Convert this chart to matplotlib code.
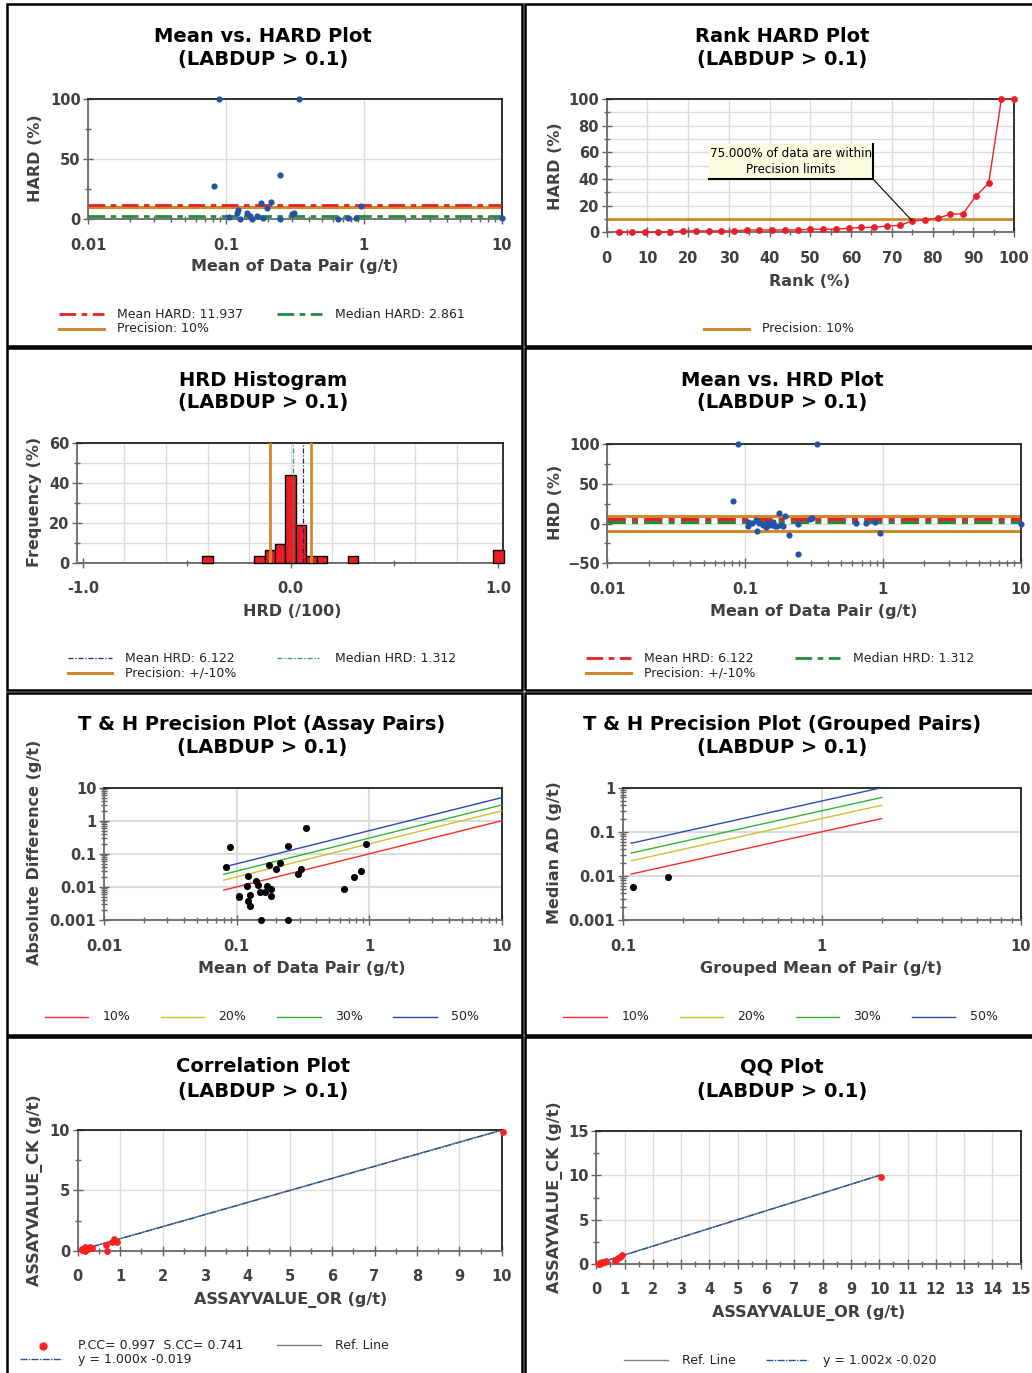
import matplotlib
matplotlib.use('Agg')
import matplotlib.pyplot as plt
from matplotlib.lines import Line2D
from matplotlib.patches import Rectangle
import matplotlib.ticker as mt
import numpy as np

plt.rcParams['font.family'] = ['DejaVu Sans']
plt.rcParams['font.weight'] = 'bold'

# ---------------- DATA ----------------
# Panel 1: Mean vs HARD
p1_mean = [0.082, 0.089, 0.105, 0.119, 0.123, 0.126, 0.142, 0.149, 0.155, 0.168, 0.178, 0.184,
           0.197, 0.212, 0.246, 0.246, 0.301, 0.310, 0.336, 0.645, 0.767, 0.877, 0.953, 10.06]
p1_hard = [27.5, 100, 1.4, 4.7, 7.8, 0.3, 5.3, 2.8, 0.0, 2.8, 13.0, 1.0,
           9.0, 14.0, 36.7, 0.0, 4.4, 5.3, 100, 0.0, 1.0, 1.0, 11.0, 0.5]
mean_hard = 11.937
median_hard = 2.861
precision = 10

# Panel 2: Rank HARD
rank_pct = [3.1, 6.3, 9.4, 12.5, 15.6, 18.8, 21.9, 25.0, 28.1, 31.3, 34.4, 37.5, 40.6, 43.8, 46.9, 50.0,
            53.1, 56.3, 59.4, 62.5, 65.6, 68.8, 71.9, 75.0, 78.1, 81.3, 84.4, 87.5, 90.6, 93.8, 96.9, 100.0]
rank_hard = [0, 0, 0, 0, 0.2, 1, 1, 1, 1, 1, 1.7, 1.7, 1.7, 1.7, 1.7, 2.3,
             2.3, 2.3, 3.0, 3.7, 3.7, 4.7, 5.2, 8.5, 9.2, 10.7, 13.5, 14.0, 27.0, 37.0, 100, 100]
within_label = "75.000% of data are within\nPrecision limits"
within_point = (75.0, 8.5)

# Panel 3: HRD histogram
hist_centers = [-0.40, -0.15, -0.10, -0.05, 0.00, 0.05, 0.10, 0.15, 0.30, 1.00]
hist_freq = [3.125, 3.125, 6.25, 9.375, 43.75, 18.75, 3.125, 3.125, 3.125, 6.25]
mean_hrd = 6.122
median_hrd = 1.312

# Panel 4: Mean vs HRD
p4_mean = [0.0813, 0.0888, 0.1044, 0.1049, 0.112, 0.119, 0.123, 0.126, 0.135, 0.142, 0.145, 0.150, 0.150,
           0.156, 0.160, 0.165, 0.170, 0.176, 0.182, 0.188, 0.195, 0.209, 0.243, 0.243, 0.296, 0.307,
           0.333, 0.637, 0.758, 0.871, 0.948, 10.0]
p4_hrd = [27.9, 100, 2.3, -3.1, 1.0, 4.4, -9.4, 0.2, -2.0, -4.8, 0.5, -1.9, 1.0,
          -1.9, 1.5, -3.1, -2.5, 13.6, -1.9, -3.0, 9.8, -14.5, -0.6, -38.8, 5.3, 6.5,
          100, 0.6, 0.6, 2.3, -12.4, -0.6]

# Panel 5: T&H assay pairs
th_mean = [0.0827, 0.0887, 0.104, 0.105, 0.122, 0.120, 0.123, 0.126, 0.127, 0.140, 0.146, 0.151, 0.154,
           0.165, 0.169, 0.175, 0.181, 0.181, 0.197, 0.212, 0.244, 0.244, 0.292, 0.304, 0.332,
           0.643, 0.768, 0.867, 0.951]
th_ad = [0.0399, 0.160, 0.0054, 0.0048, 0.0213, 0.0104, 0.0037, 0.00265, 0.0056, 0.0151, 0.0114, 0.0072, 0.001,
         0.0072, 0.0104, 0.0449, 0.0089, 0.0054, 0.0355, 0.054, 0.172, 0.001, 0.0251, 0.0355, 0.615,
         0.0085, 0.0199, 0.0302, 0.198]
prec_levels = [0.10, 0.20, 0.30, 0.50]
prec_labels = ['10%', '20%', '30%', '50%']
prec_colors = ['#ff2a2a', '#cfc12c', '#2eb82e', '#2a4cb0']
th_line_x = [0.08, 10.0]

# Panel 6: T&H grouped
grp_mean = [0.1127, 0.1684]
grp_ad = [0.0055, 0.0094]
grp_line_x = [0.11, 2.0]

# Panel 7: Correlation
corr_or = [0.10, 0.11, 0.12, 0.13, 0.15, 0.16, 0.18, 0.18, 0.20, 0.22, 0.25, 0.28, 0.30, 0.33,
           0.67, 0.70, 0.80, 0.86, 0.92, 10.04]
corr_ck = [0.08, 0.12, 0.03, 0.13, 0.16, 0.10, 0.28, 0.00, 0.18, 0.22, 0.15, 0.26, 0.30, 0.20,
           0.47, 0.00, 0.75, 0.97, 0.75, 9.86]
corr_fit = (1.000, -0.019)
corr_fit_x = [0.09, 10.0]

# Panel 8: QQ
qq_or = [0.08, 0.10, 0.12, 0.14, 0.16, 0.18, 0.20, 0.23, 0.26, 0.30, 0.34, 0.65, 0.70, 0.78, 0.85, 0.92, 10.05]
qq_ck = [0.00, 0.00, 0.03, 0.08, 0.10, 0.12, 0.15, 0.18, 0.20, 0.22, 0.28, 0.30, 0.47, 0.62, 0.75, 0.97, 9.84]
qq_fit = (1.002, -0.020)
qq_fit_x = [0.1, 10.05]

# ---------------- FIGURE ----------------
W, H = 1032, 1373
fig = plt.figure(figsize=(W / 100, H / 100), dpi=100)
fig.patch.set_facecolor('white')

def fx(x):
    return x / W

def fy(y):
    return 1 - y / H

def add_ax(l, r, t, b):
    return fig.add_axes([l / W, 1 - b / H, (r - l) / W, (b - t) / H])

BLUE = '#2453a6'
RED = '#e8202a'
ORANGE = '#d08a2e'
GREEN = '#1e8c3c'
LBL = '#404040'
GRID = '#dcdcdc'

def style(ax, xpad=10):
    for s in ['left', 'bottom']:
        ax.spines[s].set_color('#6a6a6a')
    for s in ['top', 'right']:
        ax.spines[s].set_color('#222222')
    for s in ax.spines.values():
        s.set_linewidth(1.3)
    ax.tick_params(which='both', direction='inout', colors='#606060', labelcolor=LBL,
                   labelsize=10.5, top=False, right=False)
    ax.tick_params(which='major', length=7, width=1)
    ax.tick_params(which='minor', length=5, width=1)
    ax.tick_params(axis='x', pad=xpad)
    ax.tick_params(axis='y', pad=2)
    ax.set_axisbelow(True)

def title(cx, y1, y2, s):
    fig.text(fx(cx), fy(y1), s, ha='center', va='center', fontsize=14, weight='bold', color='black')
    fig.text(fx(cx), fy(y2), '(LABDUP > 0.1)', ha='center', va='center', fontsize=14, weight='bold', color='black')

def xlabel(cx, y, s):
    fig.text(fx(cx), fy(y), s, ha='center', va='center', fontsize=11.5, weight='bold', color=LBL)

def ylabel(x, cy, s):
    fig.text(fx(x), fy(cy), s, ha='center', va='center', rotation=90, fontsize=11.5, weight='bold', color=LBL)

def leg_line(x0, x1, y, **kw):
    fig.add_artist(Line2D([fx(x0), fx(x1)], [fy(y), fy(y)], transform=fig.transFigure, **kw))

def leg_text(x, y, s):
    fig.text(fx(x), fy(y), s, ha='left', va='center', fontsize=9, weight='normal', color='#222222')

def panel_box(l, r, t, b):
    fig.add_artist(Rectangle((fx(l), fy(b)), (r - l) / W, (b - t) / H, fill=False, lw=1.8,
                             ec='black', transform=fig.transFigure, zorder=10))

def log_ticks(axis, majors, labels):
    axis.set_major_locator(mt.FixedLocator(majors))
    axis.set_major_formatter(mt.FixedFormatter(labels))
    axis.set_minor_locator(mt.LogLocator(base=10, subs=np.arange(2, 10)))
    axis.set_minor_formatter(mt.NullFormatter())

# panel borders
for (l, r) in [(6.7, 521.7), (525, 1040)]:
    for (t, b) in [(4, 346), (348.3, 690), (692.7, 1035), (1037, 1380)]:
        panel_box(l, r, t, b)

# ---------- Panel 1 ----------
ax = add_ax(88.3, 501.7, 99, 219)
style(ax)
ax.set_xscale('log')
ax.set_xlim(0.01, 10)
ax.set_ylim(0, 100)
log_ticks(ax.xaxis, [0.01, 0.1, 1, 10], ['0.01', '0.1', '1', '10'])
ax.yaxis.set_major_locator(mt.FixedLocator([0, 50, 100]))
ax.yaxis.set_minor_locator(mt.FixedLocator([25, 75]))
ax.grid(True, which='major', color=GRID, lw=1)
ax.axhline(precision, color=ORANGE, lw=2.2, zorder=2)
ax.axhline(mean_hard, color=RED, lw=2, dashes=(6, 2, 2, 2), zorder=3)
ax.axhline(median_hard, color=GREEN, lw=2, dashes=(6, 2, 2, 2), zorder=3)
ax.scatter(p1_mean, p1_hard, s=20, color=BLUE, zorder=4, clip_on=False, linewidths=0)
title(263, 36, 59, 'Mean vs. HARD Plot')
xlabel(295, 267, 'Mean of Data Pair (g/t)')
ylabel(35, 158, 'HARD (%)')
leg_line(58.7, 104, 314.3, color=RED, lw=2, dashes=(6, 2, 2, 2))
leg_text(117.3, 314.3, 'Mean HARD: %.3f' % mean_hard)
leg_line(277, 322, 314.3, color=GREEN, lw=2, dashes=(6, 2, 2, 2))
leg_text(335, 314.3, 'Median HARD: %.3f' % median_hard)
leg_line(58.7, 104, 328.7, color=ORANGE, lw=2.2)
leg_text(117.3, 328.7, 'Precision: 10%')

# ---------- Panel 2 ----------
ax = add_ax(606.7, 1014, 99, 232.3)
style(ax)
ax.set_xlim(0, 100)
ax.set_ylim(0, 100)
ax.xaxis.set_major_locator(mt.MultipleLocator(10))
ax.xaxis.set_minor_locator(mt.MultipleLocator(5))
ax.yaxis.set_major_locator(mt.MultipleLocator(20))
ax.yaxis.set_minor_locator(mt.MultipleLocator(10))
ax.grid(True, which='major', axis='x', color=GRID, lw=1)
ax.grid(True, which='both', axis='y', color=GRID, lw=1)
ax.axhline(precision, color=ORANGE, lw=2, zorder=2)
ax.plot(rank_pct, rank_hard, color=RED, lw=1, marker='o', ms=3.9, mec=RED, mfc=RED,
        zorder=4, clip_on=False)
# annotation box
bx0, bx1, by0, by1 = 709, 873, 144, 179
fig.add_artist(Rectangle((fx(bx0), fy(by1)), (bx1 - bx0) / W, (by1 - by0) / H, fc='#fbfbdf',
                         ec='none', transform=fig.transFigure, zorder=5))
fig.add_artist(Line2D([fx(bx0), fx(bx1), fx(bx1)], [fy(by1), fy(by1), fy(by0)], color='black',
                      lw=1.5, transform=fig.transFigure, zorder=6))
fig.text(fx(791), fy(161.5), within_label, ha='center', va='center', fontsize=8.6, weight='normal',
         color='black', linespacing=1.3, zorder=7)
ax.annotate('', xy=within_point, xycoords='data', xytext=(bx1, H - by1), textcoords='figure pixels',
            arrowprops=dict(arrowstyle='-', color='black', lw=0.8, shrinkA=0, shrinkB=0), zorder=6)
title(782, 36, 59, 'Rank HARD Plot')
xlabel(810, 282, 'Rank (%)')
ylabel(555, 166, 'HARD (%)')
leg_line(704, 748.7, 328.7, color=ORANGE, lw=2.2)
leg_text(762.3, 328.7, 'Precision: 10%')

# ---------- Panel 3 ----------
ax = add_ax(77.3, 503.3, 442.7, 562.7)
style(ax)
ax.set_xlim(-1.027, 1.024)
ax.set_ylim(0, 60)
ax.xaxis.set_major_locator(mt.FixedLocator([-1.0, 0.0, 1.0]))
ax.xaxis.set_major_formatter(mt.FixedFormatter(['-1.0', '0.0', '1.0']))
ax.xaxis.set_minor_locator(mt.FixedLocator([-0.5, 0.5]))
ax.yaxis.set_major_locator(mt.MultipleLocator(20))
ax.yaxis.set_minor_locator(mt.MultipleLocator(10))
ax.grid(True, which='both', axis='y', color=GRID, lw=1)
for gx in np.arange(-0.8, 1.0, 0.2):
    ax.axvline(gx, color=GRID, lw=1, zorder=0)
ax.axhline(0, color='#9a4a3a', lw=1.2, zorder=1)
ax.bar(hist_centers, hist_freq, width=0.05, color='#ee1c24', edgecolor='black', lw=1, zorder=3,
       clip_on=False)
ax.axvline(-precision / 100, color=ORANGE, lw=2, zorder=4)
ax.axvline(precision / 100, color=ORANGE, lw=2, zorder=4)
ax.axvline(median_hrd / 100, color='#2ca05a', lw=0.9, dashes=(4, 1.5, 1, 1.5), zorder=4)
ax.axvline(mean_hrd / 100, color='#1a237e', lw=0.9, dashes=(4, 1.5, 1, 1.5), zorder=4)
title(263, 380, 403, 'HRD Histogram')
xlabel(292, 611, 'HRD (/100)')
ylabel(35, 502, 'Frequency (%)')
leg_line(67.7, 111.7, 658.3, color='#1a237e', lw=0.9, dashes=(4, 1.5, 1, 1.5))
leg_text(125.3, 658.3, 'Mean HRD: %.3f' % mean_hrd)
leg_line(277.3, 319, 658.3, color='#2ca05a', lw=0.9, dashes=(4, 1.5, 1, 1.5))
leg_text(335, 658.3, 'Median HRD: %.3f' % median_hrd)
leg_line(67.7, 111.7, 672.7, color=ORANGE, lw=2.2)
leg_text(125.3, 672.7, 'Precision: +/-10%')

# ---------- Panel 4 ----------
ax = add_ax(607.3, 1020.7, 444, 563.3)
style(ax)
ax.set_xscale('log')
ax.set_xlim(0.01, 10)
ax.set_ylim(-50, 100)
log_ticks(ax.xaxis, [0.01, 0.1, 1, 10], ['0.01', '0.1', '1', '10'])
ax.yaxis.set_major_locator(mt.FixedLocator([-50, 0, 50, 100]))
ax.yaxis.set_minor_locator(mt.FixedLocator([-25, 25, 75]))
ax.grid(True, which='major', color=GRID, lw=1)
ax.axhline(precision, color=ORANGE, lw=2.2, zorder=2)
ax.axhline(-precision, color=ORANGE, lw=2.2, zorder=2)
ax.axhline(mean_hrd, color=RED, lw=2.2, dashes=(6, 2, 2, 2), zorder=3)
ax.axhline(median_hrd, color=GREEN, lw=2.2, dashes=(6, 2, 2, 2), zorder=3)
ax.scatter(p4_mean, p4_hrd, s=20, color=BLUE, zorder=4, clip_on=False, linewidths=0)
title(782, 380, 403, 'Mean vs. HRD Plot')
xlabel(814, 611.7, 'Mean of Data Pair (g/t)')
ylabel(555, 502, 'HRD (%)')
leg_line(585.7, 631, 658.3, color=RED, lw=2, dashes=(6, 2, 2, 2))
leg_text(644, 658.3, 'Mean HRD: %.3f' % mean_hrd)
leg_line(795.3, 840.3, 658.3, color=GREEN, lw=2, dashes=(6, 2, 2, 2))
leg_text(853.3, 658.3, 'Median HRD: %.3f' % median_hrd)
leg_line(585.7, 631, 672.7, color=ORANGE, lw=2.2)
leg_text(644, 672.7, 'Precision: +/-10%')

# ---------- Panel 5 ----------
ax = add_ax(104, 501.7, 787.7, 920)
style(ax)
ax.set_xscale('log')
ax.set_yscale('log')
ax.set_xlim(0.01, 10)
ax.set_ylim(0.001, 10)
log_ticks(ax.xaxis, [0.01, 0.1, 1, 10], ['0.01', '0.1', '1', '10'])
log_ticks(ax.yaxis, [0.001, 0.01, 0.1, 1, 10], ['0.001', '0.01', '0.1', '1', '10'])
ax.tick_params(axis='y', which='minor', length=4)
ax.grid(True, which='major', color=GRID, lw=1.5)
for p, c in zip(prec_levels, prec_colors):
    ax.plot(th_line_x, [p * v for v in th_line_x], color=c, lw=1, zorder=3)
ax.scatter(th_mean, th_ad, s=26, color='black', zorder=4, clip_on=False, linewidths=0)
title(262, 724, 748, 'T & H Precision Plot (Assay Pairs)')
xlabel(302, 969, 'Mean of Data Pair (g/t)')
ylabel(35, 852, 'Absolute Difference (g/t)')
for (x0, x1, tx), c, lab in zip([(45, 88.3, 102.7), (161.3, 204.3, 218.3), (277.3, 320.7, 335),
                                 (393.3, 436.7, 450.7)], prec_colors, prec_labels):
    leg_line(x0, x1, 1016.7, color=c, lw=1)
    leg_text(tx, 1016.7, lab)

# ---------- Panel 6 ----------
ax = add_ax(623, 1020.7, 787.7, 920)
style(ax)
ax.set_xscale('log')
ax.set_yscale('log')
ax.set_xlim(0.1, 10)
ax.set_ylim(0.001, 1)
log_ticks(ax.xaxis, [0.1, 1, 10], ['0.1', '1', '10'])
log_ticks(ax.yaxis, [0.001, 0.01, 0.1, 1], ['0.001', '0.01', '0.1', '1'])
ax.tick_params(axis='y', which='minor', length=4)
ax.grid(True, which='major', color=GRID, lw=1.5)
for p, c in zip(prec_levels, prec_colors):
    ax.plot(grp_line_x, [p * v for v in grp_line_x], color=c, lw=1, zorder=3)
ax.scatter(grp_mean, grp_ad, s=26, color='black', zorder=4, linewidths=0)
title(782, 724, 748, 'T & H Precision Plot (Grouped Pairs)')
xlabel(821, 969, 'Grouped Mean of Pair (g/t)')
ylabel(555, 853, 'Median AD (g/t)')
for (x0, x1, tx), c, lab in zip([(563.3, 607.3, 621.7), (679.7, 723.3, 737.3), (796, 839.3, 853.3),
                                 (911.7, 955.3, 970)], prec_colors, prec_labels):
    leg_line(x0, x1, 1016.7, color=c, lw=1)
    leg_text(tx, 1016.7, lab)

# ---------- Panel 7 ----------
ax = add_ax(77.7, 501.7, 1130, 1250.7)
style(ax)
ax.set_xlim(0, 10)
ax.set_ylim(0, 10)
ax.xaxis.set_major_locator(mt.MultipleLocator(1))
ax.xaxis.set_minor_locator(mt.MultipleLocator(0.5))
ax.yaxis.set_major_locator(mt.MultipleLocator(5))
ax.yaxis.set_minor_locator(mt.MultipleLocator(2.5))
ax.grid(True, which='major', color=GRID, lw=1)
ax.plot([0, 10], [0, 10], color='#808080', lw=1, zorder=2)
ax.plot(corr_fit_x, [corr_fit[0] * v + corr_fit[1] for v in corr_fit_x], color='#2850a0', lw=1,
        dashes=(5, 1, 1, 1), zorder=3)
ax.scatter(corr_or, corr_ck, s=24, color='#ff2020', zorder=4, clip_on=False, linewidths=0)
title(263, 1067, 1091, 'Correlation Plot')
xlabel(291, 1300, 'ASSAYVALUE_OR (g/t)')
ylabel(35, 1190, 'ASSAYVALUE_CK (g/t)')
fig.add_artist(Line2D([fx(43.3)], [fy(1345.7)], marker='o', ms=5, color='#ff2020', lw=0,
                      transform=fig.transFigure))
leg_text(78.3, 1345.7, 'P.CC= 0.997  S.CC= 0.741')
leg_line(277.3, 320.7, 1344.5, color='#808080', lw=1)
leg_text(335, 1345.7, 'Ref. Line')
leg_line(20, 62.3, 1358.5, color='#2850a0', lw=1, dashes=(5, 1, 1, 1))
leg_text(78.3, 1360, 'y = %.3fx %.3f' % corr_fit)

# ---------- Panel 8 ----------
ax = add_ax(596.3, 1020.7, 1131.3, 1263.7)
style(ax)
ax.set_xlim(0, 15)
ax.set_ylim(0, 15)
ax.xaxis.set_major_locator(mt.MultipleLocator(1))
ax.xaxis.set_minor_locator(mt.MultipleLocator(0.5))
ax.yaxis.set_major_locator(mt.MultipleLocator(5))
ax.yaxis.set_minor_locator(mt.MultipleLocator(2.5))
ax.grid(True, which='major', color=GRID, lw=1)
ax.plot([0, 10], [0, 10], color='#808080', lw=1, zorder=2)
ax.plot(qq_fit_x, [qq_fit[0] * v + qq_fit[1] for v in qq_fit_x], color='#2850a0', lw=1,
        dashes=(5, 1, 1, 1), zorder=3)
ax.scatter(qq_or, qq_ck, s=24, color='#ff2020', zorder=4, clip_on=False, linewidths=0)
fig.text(fx(782), fy(1067), 'QQ Plot', ha='center', va='center', fontsize=14, weight='bold', color='black')
fig.text(fx(782), fy(1091), '(LABDUP > 0.1)', ha='center', va='center', fontsize=14, weight='bold', color='black')
xlabel(809, 1312.7, 'ASSAYVALUE_OR (g/t)')
ylabel(555, 1197, 'ASSAYVALUE_CK (g/t)')
leg_line(624.3, 667.7, 1359.5, color='#808080', lw=1)
leg_text(682.3, 1360.7, 'Ref. Line')
leg_line(765.7, 807.7, 1359.5, color='#2850a0', lw=1, dashes=(5, 1, 1, 1))
leg_text(823.3, 1360.7, 'y = %.3fx %.3f' % qq_fit)

fig.savefig('out.png', dpi=100, facecolor='white')
